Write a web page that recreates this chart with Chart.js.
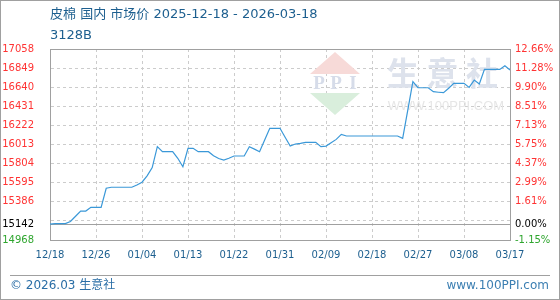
<!DOCTYPE html>
<html>
<head>
<meta charset="utf-8">
<script src="https://cdn.jsdelivr.net/npm/chart.js@4.4.1/dist/chart.umd.min.js"></script>
<style>
  html, body { margin: 0; padding: 0; background: #fff; }
  #wrap { width: 560px; height: 300px; }
</style>
</head>
<body>
<div id="wrap"><canvas id="chart" width="560" height="300"></canvas></div>
<script>
const TITLE = '皮棉 国内 市场价 2025-12-18 - 2026-03-18';
const SUBTITLE = '3128B';
const FOOTER_LEFT = '© 2026.03 生意社';
const FOOTER_RIGHT = 'www.100PPI.com';

const xTickLabels = ['12/18', '12/26', '01/04', '01/13', '01/22', '01/31', '02/09', '02/18', '02/27', '03/08', '03/17'];

// daily price, 12/18 .. 03/17
const prices = [
  15142, 15147, 15147, 15147, 15170, 15228, 15285, 15285, 15326, 15326,
  15326, 15534, 15545, 15545, 15545, 15545, 15545, 15570, 15600, 15670,
  15760, 15990, 15934, 15934, 15934, 15862, 15770, 15971, 15971, 15934,
  15934, 15934, 15890, 15860, 15843, 15862, 15887, 15887, 15887, 15989,
  15962, 15934, 16062, 16190, 16190, 16190, 16093, 15996, 16018, 16025,
  16037, 16037, 16037, 15989, 15996, 16033, 16069, 16124, 16106, 16106,
  16106, 16106, 16106, 16106, 16106, 16106, 16106, 16106, 16106, 16080,
  16390, 16700, 16634, 16634, 16634, 16591, 16585, 16580, 16628, 16682,
  16682, 16682, 16638, 16718, 16675, 16835, 16835, 16835, 16835, 16875,
  16828
];

const basePrice = 15142;
const yMin = 14968;
const yMax = 17058;
const yLabelValues = [17058, 16849, 16640, 16431, 16222, 16013, 15804, 15595, 15386, 15142, 14968];
const pctLabels = ['12.66%', '11.28%', '9.90%', '8.51%', '7.13%', '5.75%', '4.37%', '2.99%', '1.61%', '0.00%', '-1.15%'];

const BLUE_TEXT = '#1d5f8f';
const LINE_BLUE = '#3a98d8';
const RED = '#ff3333';
const GREEN = '#2ea52e';
const GRID = '#cccccc';
const FRAME = '#a0a0a0';
const TICK_FONT = { family: '"DejaVu Sans", sans-serif', size: 10 };

const X_STEP = (prices.length - 1) / (xTickLabels.length - 1);
const Y_STEP = (yMax - yMin) / 10;

function valueColor(v) {
  if (Math.abs(v - basePrice) < 0.5) return '#000000';
  return v > basePrice ? RED : GREEN;
}

function isYEdge(v) {
  return v <= yMin + 0.5 || v >= yMax - 0.5 || Math.abs(v - basePrice) < 0.5;
}

const framePlugin = {
  id: 'frame',
  afterDraw(chart) {
    const { ctx, width, height, chartArea } = chart;
    ctx.save();
    ctx.strokeStyle = FRAME;
    ctx.lineWidth = 1;
    ctx.strokeRect(0.5, 0.5, width - 1, height - 1);
    ctx.beginPath();
    ctx.moveTo(10, 275.5);
    ctx.lineTo(width - 10, 275.5);
    ctx.stroke();

    ctx.fillStyle = BLUE_TEXT;
    ctx.textBaseline = 'middle';
    ctx.textAlign = 'left';
    ctx.font = '13px "DejaVu Sans", "Noto Sans CJK SC", sans-serif';
    ctx.fillText(TITLE, chartArea.left, 15);
    ctx.fillText(SUBTITLE, chartArea.left, 36);

    ctx.font = '12px "DejaVu Sans", "Noto Sans CJK SC", sans-serif';
    ctx.fillStyle = '#2a6ea6';
    ctx.fillText(FOOTER_LEFT, 10, 286);
    ctx.textAlign = 'right';
    ctx.fillStyle = '#3c7fb2';
    ctx.fillText(FOOTER_RIGHT, width - 11, 286);
    ctx.restore();
  },
};

const watermarkPlugin = {
  id: 'watermark',
  beforeDatasetsDraw(chart) {
    const { ctx, chartArea } = chart;
    const lx = chartArea.left + 285;
    const ty = chartArea.top;
    ctx.save();
    // logo
    ctx.fillStyle = '#f7dad8';
    ctx.beginPath();
    ctx.moveTo(lx, ty + 3);
    ctx.lineTo(lx + 25, ty + 25);
    ctx.lineTo(lx - 25, ty + 25);
    ctx.closePath();
    ctx.fill();
    ctx.fillStyle = '#d9eedc';
    ctx.beginPath();
    ctx.moveTo(lx - 25, ty + 44);
    ctx.lineTo(lx + 25, ty + 44);
    ctx.lineTo(lx, ty + 66);
    ctx.closePath();
    ctx.fill();
    ctx.fillStyle = '#d6dce9';
    ctx.font = 'bold 19px "Liberation Serif", serif';
    ctx.textAlign = 'center';
    ctx.textBaseline = 'middle';
    ctx.fillText('P', lx - 16, ty + 35);
    ctx.fillText('P', lx + 1, ty + 35);
    ctx.fillText('I', lx + 18, ty + 35);

    // name
    ctx.fillStyle = '#dde2ec';
    ctx.font = 'bold 32px "Noto Sans CJK SC", sans-serif';
    ['生', '意', '社'].forEach((ch, i) => ctx.fillText(ch, chartArea.left + 353 + i * 39.5, ty + 24));
    ctx.fillStyle = '#e6e6e6';
    ctx.font = '13px "Liberation Sans", sans-serif';
    ctx.fillText('WWW.100PPI.COM', chartArea.left + 396, ty + 57);
    ctx.restore();
  },
};

new Chart(document.getElementById('chart'), {
  type: 'line',
  data: {
    datasets: [
      {
        data: prices.map((y, x) => ({ x, y })),
        borderColor: LINE_BLUE,
        borderWidth: 1.2,
        pointRadius: 0,
        tension: 0,
        fill: false,
      },
    ],
  },
  options: {
    responsive: false,
    animation: false,
    devicePixelRatio: 1,
    layout: { padding: { top: 49, left: 0, right: 0, bottom: 0 } },
    plugins: { legend: { display: false }, tooltip: { enabled: false }, title: { display: false } },
    scales: {
      x: {
        type: 'linear',
        min: 0,
        max: prices.length - 1,
        afterBuildTicks: (s) => { s.ticks = xTickLabels.map((_, k) => ({ value: k * X_STEP })); },
        afterFit: (s) => { s.height = 60; },
        ticks: {
          autoSkip: false,
          maxRotation: 0,
          padding: 9,
          color: BLUE_TEXT,
          font: TICK_FONT,
          callback: (v) => xTickLabels[Math.round(v / X_STEP)],
        },
        grid: {
          drawTicks: false,
          color: (c) => (c.tick && (c.tick.value === 0 || c.tick.value === prices.length - 1) ? FRAME : GRID),
        },
        border: {
          color: FRAME,
          dash: (c) => (c.type === 'tick' && c.tick.value !== 0 && c.tick.value !== prices.length - 1 ? [3, 3] : []),
        },
      },
      y: {
        type: 'linear',
        position: 'left',
        min: yMin,
        max: yMax,
        afterBuildTicks: (s) => {
          const vals = [];
          for (let k = 0; k <= 10; k++) vals.push(yMin + k * Y_STEP);
          vals.push(basePrice);
          vals.sort((a, b) => a - b);
          s.ticks = vals.map((value) => ({ value }));
        },
        afterFit: (s) => { s.width = 50; },
        ticks: {
          autoSkip: false,
          padding: 16,
          font: TICK_FONT,
          color: (c) => valueColor(c.tick.value),
          callback: (v) => (yLabelValues.some((lv) => Math.abs(lv - v) < 0.5) ? String(Math.round(v)) : ''),
        },
        grid: {
          drawTicks: false,
          color: (c) => (c.tick && isYEdge(c.tick.value) ? FRAME : GRID),
        },
        border: {
          color: FRAME,
          dash: (c) => (c.type === 'tick' && !isYEdge(c.tick.value) ? [3, 3] : []),
        },
      },
      y2: {
        type: 'linear',
        position: 'right',
        min: yMin,
        max: yMax,
        afterBuildTicks: (s) => { s.ticks = yLabelValues.map((value) => ({ value })); },
        afterFit: (s) => { s.width = 50; },
        ticks: {
          autoSkip: false,
          padding: 5,
          font: TICK_FONT,
          color: (c) => valueColor(c.tick.value),
          callback: (v) => pctLabels[yLabelValues.findIndex((lv) => Math.abs(lv - v) < 0.5)],
        },
        grid: { drawOnChartArea: false, drawTicks: false },
        border: { color: FRAME },
      },
    },
  },
  plugins: [watermarkPlugin, framePlugin],
});
</script>
</body>
</html>
